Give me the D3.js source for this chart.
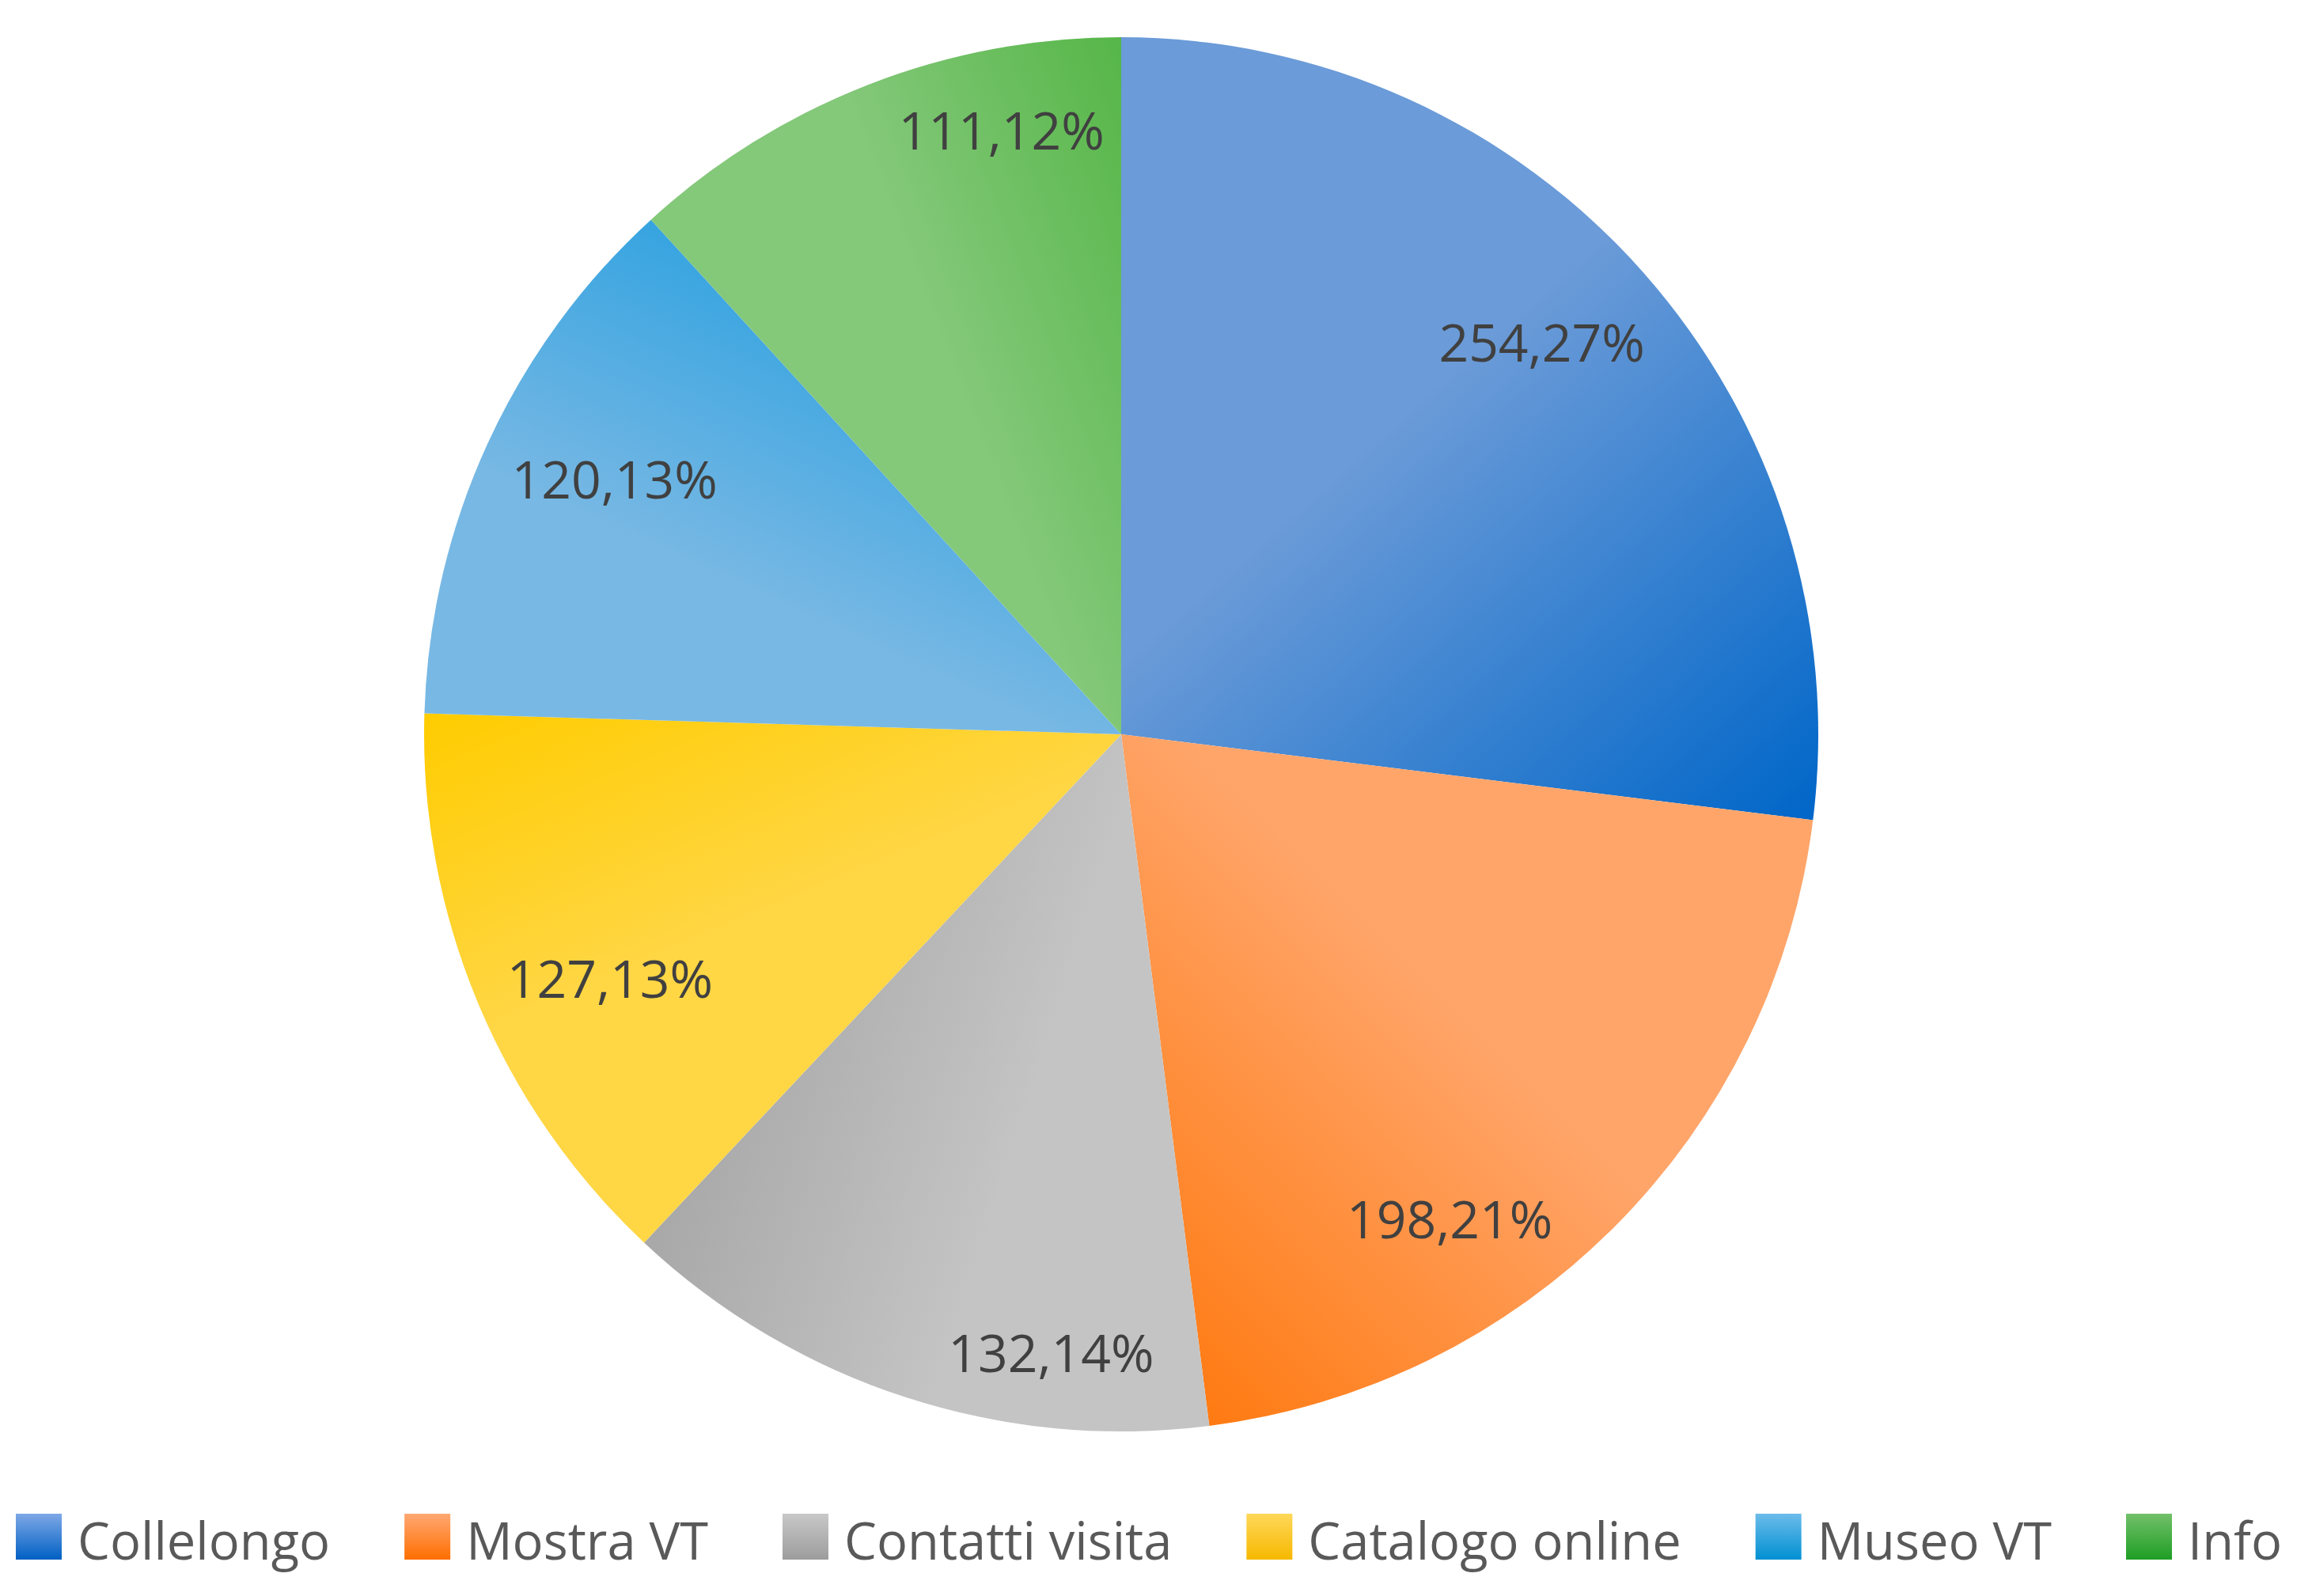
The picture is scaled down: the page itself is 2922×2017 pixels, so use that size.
<!DOCTYPE html>
<html>
<head>
<meta charset="utf-8">
<script src="https://cdn.jsdelivr.net/npm/d3@7"></script>
<style>
  body { margin: 0; background: #fff; }
  svg text { font-family: "Open Sans", sans-serif; }
</style>
</head>
<body>
<svg id="chart" width="2922" height="2017"></svg>
<script>
const categories = ["Collelongo", "Mostra VT", "Contatti visita", "Catalogo online", "Museo VT", "Info"];
const values = [254, 198, 132, 127, 120, 111];
const percents = [27, 21, 14, 13, 13, 12];

// slice gradients: light -> dark toward the closing edge
const lightColors = ["#6b9bd8", "#ffa56a", "#c4c4c4", "#ffd644", "#78b8e4", "#84c87a"];
const darkColors = ["#0066c8", "#ff7a12", "#a8a8a8", "#ffcc00", "#36a4e0", "#56b648"];
// legend swatches: top -> bottom
const swatchTop = ["#7ea8e6", "#ffa872", "#c8c8c8", "#ffd85a", "#6cbcea", "#72c06a"];
const swatchBottom = ["#0060c4", "#ff6e00", "#9c9c9c", "#f6b800", "#0090d2", "#1e9e24"];
// label nudges (degrees) so labels sit where the original put them
const labelShiftDeg = [-1.5, 11, -11.5, -3, 2, 10];

const width = 2922, height = 2017;
const cx = 1417, cy = 928, R = 881;

let svg = d3.select("#chart");
let defs = svg.append("defs");

let pie = d3.pie().sort(null).value(d => d);
let arcs = pie(values);

let rim = (a) => [cx + R * Math.sin(a), cy - R * Math.cos(a)];

arcs.forEach((d, i) => {
    let p0 = rim(d.startAngle);
    let p1 = rim(d.endAngle);
    let g = defs.append("linearGradient")
        .attr("id", "slice" + i)
        .attr("gradientUnits", "userSpaceOnUse")
        .attr("x1", p0[0]).attr("y1", p0[1])
        .attr("x2", p1[0]).attr("y2", p1[1]);
    g.append("stop").attr("offset", 0).attr("stop-color", lightColors[i]);
    g.append("stop").attr("offset", 0.45).attr("stop-color", lightColors[i]);
    g.append("stop").attr("offset", 1).attr("stop-color", darkColors[i]);

    let s = defs.append("linearGradient")
        .attr("id", "swatch" + i)
        .attr("x1", 0).attr("y1", 0).attr("x2", 0).attr("y2", 1);
    s.append("stop").attr("offset", 0).attr("stop-color", swatchTop[i]);
    s.append("stop").attr("offset", 1).attr("stop-color", swatchBottom[i]);
});

// slices drawn in page space so the userSpace gradients line up
let arc = d3.arc().innerRadius(0).outerRadius(R);
svg.append("g")
    .attr("transform", `translate(${cx},${cy})`)
    .selectAll("path")
    .data(arcs)
    .enter()
    .append("path")
    .attr("d", arc)
    .attr("fill", (d, i) => "url(#slice" + i + ")")
    .attr("gradientTransform", null);

// gradients use page coords, so shift them into the group's frame
defs.selectAll("linearGradient")
    .filter(function () { return this.id.startsWith("slice"); })
    .attr("gradientTransform", `translate(${-cx},${-cy})`);

// data labels, placed inside the rim (inside end)
let labels = svg.append("g")
    .selectAll("text")
    .data(arcs)
    .enter()
    .append("text")
    .attr("text-anchor", "middle")
    .attr("dy", "0.36em")
    .attr("font-size", 66)
    .attr("fill", "#404040")
    .text((d, i) => values[i] + "," + percents[i] + "%");

labels.each(function (d, i) {
    let w = this.getComputedTextLength();
    let hw = w / 2, hh = 40;
    let mid = (d.startAngle + d.endAngle) / 2 + labelShiftDeg[i] * Math.PI / 180;
    let dx = Math.sin(mid), dy = -Math.cos(mid);
    let kx = Math.sign(dx) * hw, ky = Math.sign(dy) * hh;
    let L = R - 30;
    let b = dx * kx + dy * ky;
    let c = kx * kx + ky * ky - L * L;
    let r = -b + Math.sqrt(b * b - c);
    d3.select(this).attr("x", cx + r * dx).attr("y", cy + r * dy);
});

// legend
let legend = svg.append("g");
let sw = 58, gapText = 20, gapItem = 94;
let x = 0;
categories.forEach((name, i) => {
    let item = legend.append("g").attr("transform", `translate(${x},0)`);
    item.append("rect")
        .attr("x", 0).attr("y", 1913)
        .attr("width", sw).attr("height", sw)
        .attr("fill", "url(#swatch" + i + ")");
    let t = item.append("text")
        .attr("x", sw + gapText)
        .attr("y", 1971)
        .attr("font-size", 65)
        .attr("fill", "#595959")
        .text(name);
    x += sw + gapText + t.node().getComputedTextLength() + gapItem;
});
let total = x - gapItem;
legend.attr("transform", `translate(${1452 - total / 2},0)`);
</script>
</body>
</html>
